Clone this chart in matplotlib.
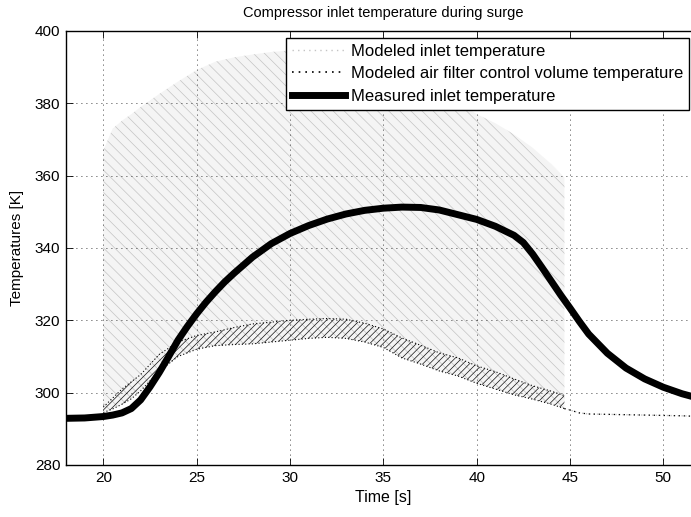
import matplotlib
matplotlib.use("Agg")
import matplotlib.pyplot as plt
from matplotlib.lines import Line2D

plt.rcParams["font.family"] = ["Liberation Sans", "DejaVu Sans"]
plt.rcParams["hatch.linewidth"] = 0.5

# measured inlet temperature [K]
meas_t = [18, 19, 20, 20.5, 21, 21.5, 22, 22.5, 23, 23.5, 24, 24.5, 25, 25.5,
          26, 26.5, 27, 28, 29, 30, 31, 32, 33, 34, 35, 36, 37, 38, 39, 40, 41,
          42, 42.5, 43, 43.5, 44, 44.5, 45, 45.5, 46, 47, 48, 49, 50, 51, 52]
meas_T = [292.9, 293.0, 293.4, 293.8, 294.4, 295.6, 298.0, 301.6, 305.6, 310.0,
          314.5, 318.3, 321.8, 325.0, 327.9, 330.6, 333.0, 337.5, 341.2, 344.0,
          346.2, 348.0, 349.4, 350.4, 351.0, 351.3, 351.2, 350.5, 349.2, 347.9,
          346.0, 343.5, 341.5, 338.3, 334.6, 330.8, 327.0, 323.4, 319.7, 316.2,
          310.9, 306.8, 303.8, 301.5, 299.7, 298.3]

# surge period: envelopes of the modeled signals
band_t = [20, 20.5, 21, 21.5, 22, 23, 24, 25, 26, 27, 28, 29, 30, 31, 32, 33, 34,
          35, 36, 37, 38, 39, 40, 41, 42, 43, 44, 44.7]
inlet_hi = [367, 373, 375.2, 377, 379, 382.6, 386, 389.2, 391.5, 392.7, 393.5,
            394.2, 394.6, 394.8, 394.8, 394.4, 393.7, 392.5, 390.8, 388.5, 385,
            380.5, 377, 374.5, 371.4, 367.7, 363.2, 359.5]
filt_lo = [294.5, 295.5, 296.8, 298.3, 300.5, 306.0, 310.0, 312.0, 313.0, 313.3,
           313.5, 314.0, 314.5, 315.0, 315.3, 315.0, 314.0, 312.5, 309.6, 307.9,
           306.0, 304.6, 302.6, 301.0, 299.4, 298.2, 296.8, 295.6]
filt_hi = [296.0, 298.5, 301.0, 303.0, 305.0, 310.6, 314.0, 315.8, 316.8, 318.0,
           319.0, 319.5, 320.0, 320.3, 320.5, 320.3, 319.2, 317.6, 315.1, 313.1,
           311.0, 309.6, 307.4, 305.8, 303.8, 301.9, 300.4, 299.2]

# after surge both modeled temperatures settle
tail_t = [44.7, 45.0, 45.5, 46, 47, 48, 49, 50, 51, 52]
tail_T = [295.6, 295.2, 294.4, 294.1, 294.0, 293.9, 293.8, 293.7, 293.6, 293.4]

labels = ["Modeled inlet temperature",
          "Modeled air filter control volume temperature",
          "Measured inlet temperature"]

fig = plt.figure(figsize=(6.91, 5.17), dpi=100)
ax = fig.add_axes([0.0955, 0.1006, 0.9185, 0.8395])

gray = "#c4c4c4"
# modeled inlet temperature oscillates between filter temp and hot backflow
ax.fill_between(band_t, filt_lo, inlet_hi, facecolor="#f4f4f4",
                edgecolor=gray, hatch="\\\\\\", linewidth=0)
ax.plot(tail_t, tail_T, color=gray, ls=":", lw=1)

# air filter control volume temperature
ax.fill_between(band_t, filt_lo, filt_hi, facecolor="none", edgecolor="#111111",
                hatch="/////", linewidth=0)
ax.plot(band_t, filt_lo, color="k", ls=(0, (1, 2)), lw=0.8)
ax.plot(band_t, filt_hi, color="k", ls=(0, (1, 2)), lw=0.8)
ax.plot(tail_t, tail_T, color="k", ls=(0, (1, 3)), lw=0.9)

ax.plot(meas_t, meas_T, color="k", lw=5, solid_capstyle="butt")

ticks_x = [20, 25, 30, 35, 40, 45, 50]
ticks_y = [280, 300, 320, 340, 360, 380, 400]
ax.set_xlim(18, 52)
ax.set_ylim(280, 400)
ax.set_xticks(ticks_x)
ax.set_yticks(ticks_y)
ax.tick_params(direction="in", top=True, right=True, length=5, labelsize=11,
               width=0.6, pad=4)
ax.grid(True, color="k", ls=(0, (1, 5)), lw=0.6)
for s in ax.spines.values():
    s.set_linewidth(1.0)

ax.set_xlabel("Time [s]", fontsize=11.5, labelpad=4)
ax.set_ylabel("Temperatures [K]", fontsize=11, labelpad=8)
ax.set_title("Compressor inlet temperature during surge", fontsize=10.5, pad=10)

handles = [
    Line2D([0], [0], color=gray, ls=(0, (1, 3)), lw=1),
    Line2D([0], [0], color="k", ls=(0, (1, 3)), lw=1.2),
    Line2D([0], [0], color="k", lw=5),
]
leg = ax.legend(handles, labels, loc="upper left", bbox_to_anchor=(0.347, 0.984),
                borderaxespad=0, fontsize=12, handlelength=3.2,
                handletextpad=0.36, labelspacing=0.45, borderpad=0.35,
                fancybox=False, framealpha=1, edgecolor="k")
leg.get_frame().set_linewidth(1.0)

fig.savefig("out.png", dpi=100)
